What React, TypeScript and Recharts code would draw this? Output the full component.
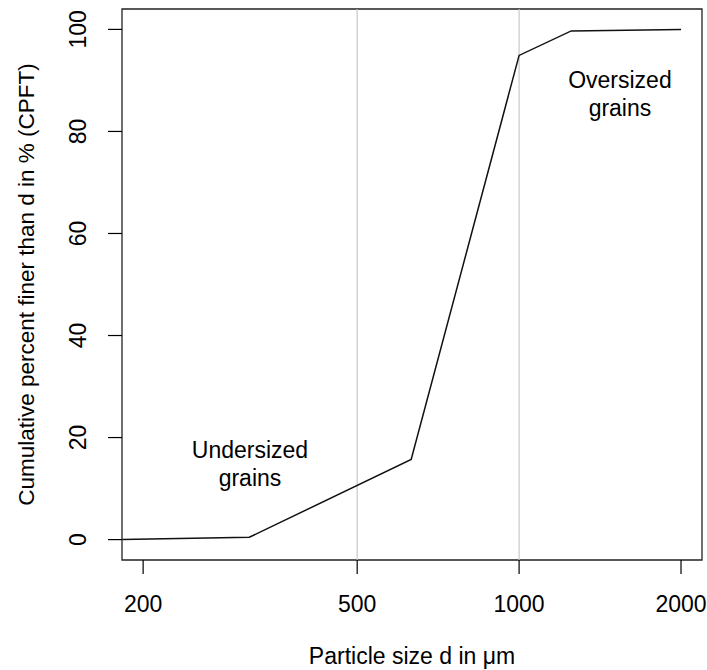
import React from "react";
import {
  LineChart,
  Line,
  XAxis,
  YAxis,
  ReferenceLine,
  ReferenceArea,
  ReferenceDot,
} from "recharts";

// ─── Data ─────────────────────────────────────────────────────────────────────

const sizes = [183, 315, 630, 1000, 1250, 2000]; // µm
const cpft = [0, 0.45, 15.7, 94.9, 99.7, 100]; // %
const xTicks = [200, 500, 1000, 2000];
const yTicks = [0, 20, 40, 60, 80, 100];
const gridX = [500, 1000];

const data = sizes.map((d, i) => ({ d, cpft: cpft[i] }));

const X_DOMAIN: [number, number] = [182.7, 2188];
const Y_DOMAIN: [number, number] = [-4, 104];
const FONT = "'Liberation Sans', Arial, sans-serif";
const FS = 23;

// ─── Ticks ────────────────────────────────────────────────────────────────────

function YTick({ x, y, payload }: any) {
  const cx = x - 20;
  return (
    <text
      x={cx}
      y={y}
      transform={`rotate(-90, ${cx}, ${y})`}
      textAnchor="middle"
      fontSize={FS}
      fontFamily={FONT}
      fill="#000"
    >
      {payload.value}
    </text>
  );
}

function XTick({ x, y, payload }: any) {
  return (
    <text
      x={x}
      y={y + 36}
      textAnchor="middle"
      fontSize={FS}
      fontFamily={FONT}
      fill="#000"
    >
      {payload.value}
    </text>
  );
}

// two-line annotation drawn at a data anchor
function note(lines: string[]) {
  return ({ cx, cy }: any) => (
    <text textAnchor="middle" fontSize={FS} fontFamily={FONT} fill="#000">
      {lines.map((t, i) => (
        <tspan key={t} x={cx} y={cy + i * 28}>
          {t}
        </tspan>
      ))}
    </text>
  );
}

export default function App() {
  return (
    <div style={{ position: "absolute", left: 0, top: 0, background: "#fff" }}>
      <LineChart
        width={707}
        height={670}
        data={data}
        margin={{ top: 9, right: 5, bottom: 0, left: 0 }}
      >
        <XAxis
          dataKey="d"
          type="number"
          scale="log"
          domain={X_DOMAIN}
          allowDataOverflow
          ticks={xTicks}
          tickSize={14}
          axisLine={false}
          tickLine={{ stroke: "#000", strokeWidth: 1.2 }}
          tick={<XTick />}
          height={110}
          label={({ viewBox }: any) => (
            <text
              x={viewBox.x + viewBox.width / 2}
              y={664}
              textAnchor="middle"
              fontSize={FS}
              fontFamily={FONT}
              fill="#000"
            >
              Particle size d in μm
            </text>
          )}
        />
        <YAxis
          type="number"
          domain={Y_DOMAIN}
          allowDataOverflow
          ticks={yTicks}
          tickSize={14}
          axisLine={false}
          tickLine={{ stroke: "#000", strokeWidth: 1.2 }}
          tick={<YTick />}
          width={122}
          label={({ viewBox }: any) => {
            const cy = viewBox.y + viewBox.height / 2;
            return (
              <text
                x={34}
                y={cy}
                transform={`rotate(-90, 34, ${cy})`}
                textAnchor="middle"
                fontSize={22.5}
                fontFamily={FONT}
                fill="#000"
              >
                Cumulative percent finer than d in % (CPFT)
              </text>
            );
          }}
        />
        {gridX.map((v) => (
          <ReferenceLine key={v} x={v} stroke="#c8c8c8" strokeWidth={1.2} />
        ))}
        <ReferenceArea
          x1={X_DOMAIN[0]}
          x2={X_DOMAIN[1]}
          y1={Y_DOMAIN[0]}
          y2={Y_DOMAIN[1]}
          fill="none"
          fillOpacity={0}
          stroke="#222"
          strokeWidth={1.3}
        />
        <Line
          type="linear"
          dataKey="cpft"
          stroke="#111"
          strokeWidth={1.5}
          dot={false}
          isAnimationActive={false}
        />
        <ReferenceDot
          x={316}
          y={15.9}
          r={0}
          ifOverflow="visible"
          shape={note(["Undersized", "grains"])}
        />
        <ReferenceDot
          x={1540}
          y={88.6}
          r={0}
          ifOverflow="visible"
          shape={note(["Oversized", "grains"])}
        />
      </LineChart>
    </div>
  );
}
